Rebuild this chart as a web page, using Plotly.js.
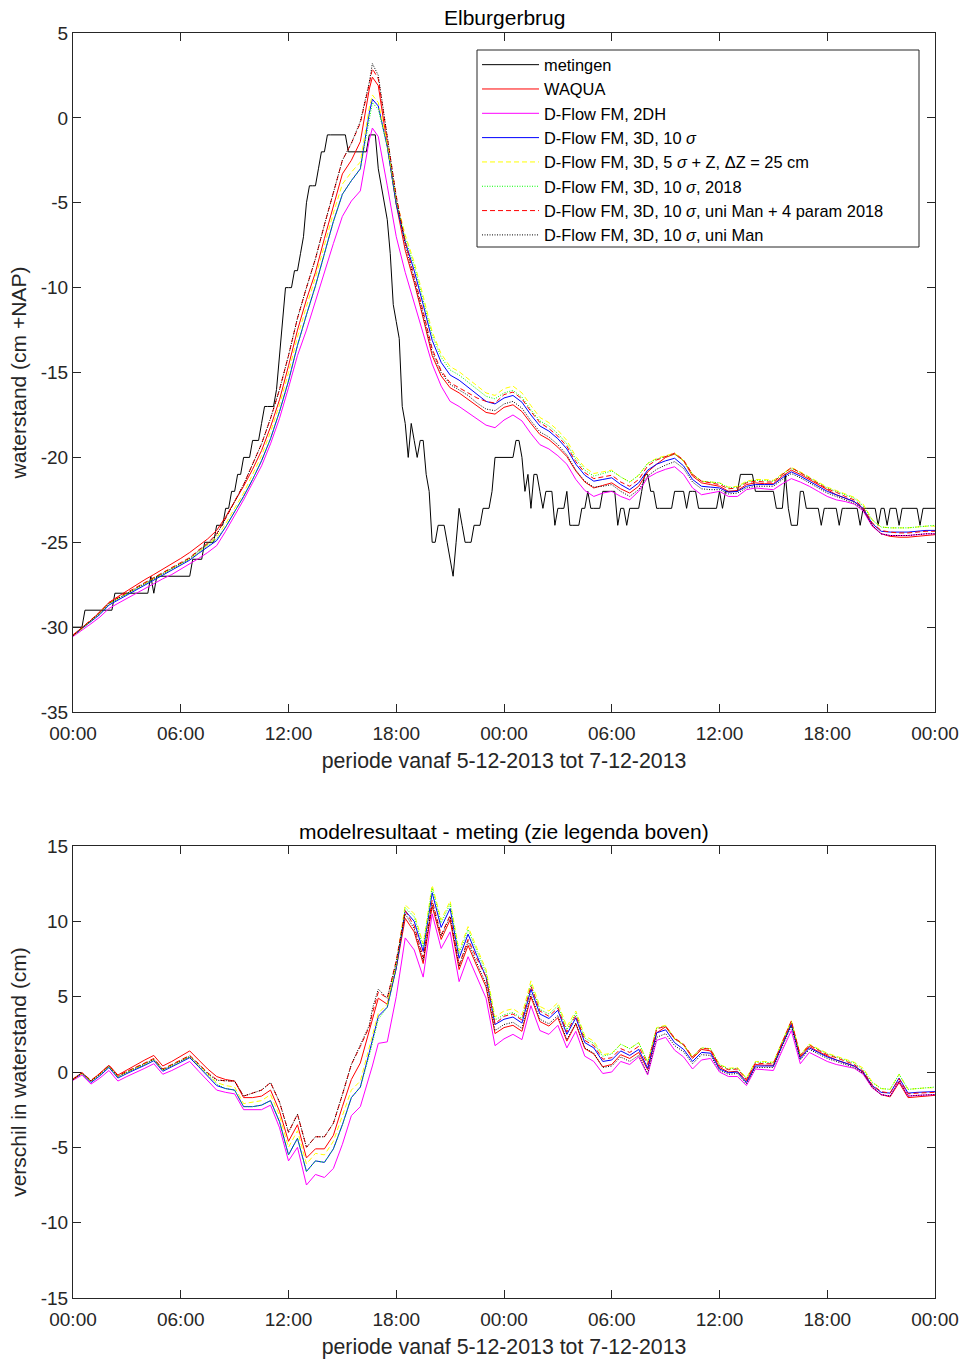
<!DOCTYPE html>
<html>
<head>
<meta charset="utf-8">
<script src="https://cdn.plot.ly/plotly-3.0.1.min.js"></script>
<style>html,body{margin:0;padding:0;background:#fff;}#chart{width:963px;height:1360px;}</style>
</head>
<body>
<div id="chart"></div>
<script>
// model output times, hours since 5-12-2013 00:00
const hours = [0,0.5,1,1.5,2,2.5,3,3.5,4,4.5,5,5.5,6,6.5,7,7.5,8,8.5,9,9.5,10,10.5,11,11.5,12,12.5,13,13.5,14,14.5,15,15.5,16,16.5,16.67,17,17.5,18,18.5,19,19.5,20,20.5,21,21.5,22,22.5,23,23.5,24,24.5,25,25.5,26,26.5,27,27.5,28,28.5,29,29.5,30,30.5,31,31.5,32,32.5,33,33.5,34,34.5,35,35.5,36,36.5,37,37.5,38,38.5,39,39.5,40,40.5,41,41.5,42,42.5,43,43.5,44,44.5,45,45.5,46,46.5,47,47.5,48];

const tickHours = [0,6,12,18,24,30,36,42,48];
const tickLabels = ['00:00','06:00','12:00','18:00','00:00','06:00','12:00','18:00','00:00'];
const yTicksTop = [-35,-30,-25,-20,-15,-10,-5,0,5];
const yLabelsTop = ['-35','-30','-25','-20','-15','-10','-5','0','5'];
const yTicksBot = [-15,-10,-5,0,5,10,15];
const yLabelsBot = ['-15','-10','-5','0','5','10','15'];

// measurements every 10 minutes from 00:00 (one row per hour)
const metingenStep = 1 / 6;
const metingen = [
 -30,-30,-30,-30,-29,-29,
 -29,-29,-29,-29,-29,-29,
 -29,-29,-28,-28,-28,-28,
 -28,-28,-28,-28,-28,-28,
 -28,-28,-27,-28,-27,-27,
 -27,-27,-27,-27,-27,-27,
 -27,-27,-27,-27,-26,-26,
 -26,-26,-25,-25,-25,-25,
 -24,-24,-24,-23,-23,-22,
 -22,-21,-21,-20,-20,-20,
 -19,-19,-19,-18,-17,-17,
 -17,-17,-16,-14,-12,-10,
 -10,-10,-9,-9,-8,-7,
 -5,-4,-4,-4,-3,-2,
 -2,-1,-1,-1,-1,-1,
 -1,-1,-2,-2,-2,-2,
 -2,-2,-2,-1,-1,-1,
 -3,-4,-5,-6,-8,-11,
 -12,-13,-17,-18,-20,-18,
 -19,-20,-19,-19,-21,-22,
 -25,-25,-24,-24,-24,-25,
 -26,-27,-25,-23,-24,-25,
 -25,-25,-24,-24,-24,-23,
 -23,-23,-22,-20,-20,-20,
 -20,-20,-20,-20,-19,-19,
 -20,-22,-21,-23,-21,-21,
 -22,-23,-22,-22,-22,-24,
 -23,-23,-23,-22,-24,-24,
 -24,-24,-23,-23,-22,-23,
 -23,-23,-23,-22,-22,-22,
 -22,-22,-24,-23,-23,-24,
 -23,-23,-23,-23,-22,-21,
 -21,-22,-22,-23,-23,-23,
 -23,-23,-23,-22,-22,-22,
 -22,-23,-22,-22,-22,-23,
 -23,-23,-23,-23,-23,-23,
 -22,-23,-22,-22,-22,-22,
 -22,-21,-21,-21,-21,-21,
 -22,-22,-22,-22,-22,-22,
 -22,-23,-23,-23,-21,-23,
 -24,-24,-24,-22,-22,-23,
 -23,-23,-23,-23,-24,-23,
 -23,-23,-23,-23,-24,-23,
 -23,-23,-23,-23,-23,-24,
 -23,-23,-23,-23,-23,-24,
 -23,-23,-24,-23,-23,-23,
 -24,-23,-23,-23,-23,-23,
 -23,-24,-23,-23,-23,-23,
 -23];

const waqua = [-30.45,-30.05,-29.6,-29.1,-28.55,-28.2,-27.85,-27.55,-27.2,-26.9,-26.6,-26.3,-25.95,-25.6,-25.2,-24.8,
 -24.3,-23.5,-22.6,-21.7,-20.7,-19.6,-18.2,-16.6,-14.6,-12.5,-10.7,-9.1,-7.1,-5.2,-3.3,-2.5,-1.4,1.7,2.4,1.9,
 -1.5,-5.1,-7.8,-9.7,-11.8,-14.0,-15.2,-15.9,-16.2,-16.6,-17.0,-17.35,-17.45,-17.05,-16.9,-17.3,-18.0,-18.65,-18.95,-19.4,-19.95,-20.8,-21.45,-21.8,-21.65,-21.5,-21.85,-22.1,-21.7,-20.85,-20.4,-20.0,-19.8,-20.2,-21.1,-21.5,-21.6,-21.7,-22.0,-21.95,-21.6,-21.5,-21.55,-21.55,-21.1,-20.75,-21.0,-21.3,-21.65,-21.95,-22.2,-22.4,-22.6,-23.05,-24.0,-24.5,-24.65,-24.7,-24.7,-24.65,-24.6,-24.55];

const fm2DH = [-30.55,-30.2,-29.8,-29.4,-28.9,-28.6,-28.3,-28.05,-27.75,-27.45,-27.15,-26.9,-26.6,-26.3,-25.95,-25.6,
 -25.2,-24.35,-23.45,-22.5,-21.5,-20.5,-19.2,-17.7,-15.9,-14.0,-12.5,-10.8,-9.0,-7.4,-5.8,-4.9,-4.3,-1.3,-0.6,-1.1,
 -4.0,-7.0,-9.1,-10.9,-12.7,-14.5,-15.8,-16.7,-17.0,-17.35,-17.7,-18.1,-18.25,-17.8,-17.5,-17.85,-18.6,-19.25,-19.5,-19.9,-20.4,-21.3,-21.95,-22.3,-22.1,-22.0,-22.3,-22.5,-22.0,-21.2,-20.9,-20.7,-20.55,-21.0,-21.8,-22.2,-22.1,-22.0,-22.3,-22.3,-21.9,-21.8,-21.85,-21.9,-21.55,-21.25,-21.45,-21.7,-22.0,-22.3,-22.5,-22.6,-22.75,-23.15,-24.05,-24.5,-24.6,-24.6,-24.6,-24.55,-24.5,-24.5];

const fm3D10 = [-30.5,-30.1,-29.7,-29.25,-28.7,-28.4,-28.1,-27.85,-27.55,-27.25,-26.95,-26.65,-26.35,-26.05,-25.65,-25.25,
 -24.9,-24.1,-23.2,-22.3,-21.3,-20.2,-18.9,-17.3,-15.5,-13.4,-11.6,-9.9,-8.0,-6.1,-4.5,-3.7,-3.0,0.3,1.1,0.7,
 -1.7,-5.1,-7.3,-9.0,-11.0,-13.1,-14.4,-15.15,-15.45,-15.85,-16.3,-16.7,-16.85,-16.5,-16.35,-16.75,-17.5,-18.15,-18.45,-18.9,-19.5,-20.4,-21.05,-21.4,-21.3,-21.2,-21.6,-21.9,-21.5,-20.75,-20.4,-20.2,-20.05,-20.5,-21.3,-21.7,-21.75,-21.8,-22.05,-22.0,-21.7,-21.6,-21.6,-21.6,-21.2,-20.85,-21.1,-21.4,-21.7,-22.0,-22.2,-22.4,-22.6,-23.0,-23.9,-24.35,-24.4,-24.4,-24.4,-24.35,-24.3,-24.3];

const fm3D5Z = [-30.5,-30.1,-29.6,-29.15,-28.6,-28.3,-28.0,-27.75,-27.45,-27.15,-26.85,-26.55,-26.25,-25.95,-25.55,-25.15,
 -24.7,-23.9,-23.0,-22.1,-21.0,-19.9,-18.5,-16.9,-15.0,-12.9,-11.1,-9.4,-7.5,-5.6,-3.9,-3.2,-2.6,0.6,1.35,0.9,
 -1.5,-4.8,-6.9,-8.5,-10.5,-12.6,-13.9,-14.65,-14.95,-15.35,-15.8,-16.2,-16.35,-15.95,-15.8,-16.2,-16.95,-17.65,-17.95,-18.4,-19.0,-19.95,-20.6,-20.95,-20.85,-20.75,-21.15,-21.45,-21.05,-20.35,-20.05,-19.9,-19.75,-20.2,-21.0,-21.4,-21.45,-21.5,-21.75,-21.7,-21.4,-21.3,-21.3,-21.35,-20.95,-20.6,-20.85,-21.15,-21.45,-21.75,-21.95,-22.15,-22.35,-22.75,-23.65,-24.1,-24.15,-24.15,-24.15,-24.1,-24.05,-24.05];

const fm3D10_2018 = [-30.5,-30.1,-29.65,-29.2,-28.65,-28.35,-28.05,-27.8,-27.5,-27.2,-26.9,-26.6,-26.3,-26.0,-25.6,-25.2,
 -24.8,-24.1,-23.2,-22.3,-21.3,-20.2,-18.9,-17.3,-15.5,-13.4,-11.6,-9.9,-8.0,-6.1,-4.5,-3.7,-3.0,0.1,0.9,0.5,
 -1.7,-5.0,-7.1,-8.7,-10.7,-12.8,-14.1,-14.85,-15.15,-15.55,-16.0,-16.4,-16.55,-16.2,-16.05,-16.45,-17.2,-17.85,-18.15,-18.6,-19.2,-20.1,-20.75,-21.1,-20.95,-20.8,-21.15,-21.45,-21.05,-20.35,-20.1,-19.95,-19.8,-20.2,-21.0,-21.4,-21.45,-21.5,-21.8,-21.75,-21.45,-21.35,-21.35,-21.4,-21.0,-20.65,-20.9,-21.2,-21.5,-21.8,-22.0,-22.2,-22.4,-22.85,-23.7,-24.1,-24.15,-24.15,-24.15,-24.1,-24.05,-24.0];

const fmUniMan4p = [-30.5,-30.05,-29.55,-29.1,-28.55,-28.25,-27.95,-27.7,-27.4,-27.1,-26.8,-26.5,-26.2,-25.9,-25.45,-25.05,
 -24.5,-23.6,-22.6,-21.6,-20.4,-19.2,-17.7,-16.0,-14.0,-11.8,-10.0,-8.3,-6.3,-4.4,-2.5,-1.5,-0.3,2.0,2.9,2.3,
 -1.1,-4.6,-7.3,-9.3,-11.4,-13.6,-14.9,-15.6,-15.9,-16.2,-16.5,-16.7,-16.8,-16.3,-16.15,-16.55,-17.3,-17.95,-18.3,-18.75,-19.35,-20.25,-20.9,-21.25,-21.15,-21.05,-21.45,-21.7,-21.3,-20.5,-20.15,-19.95,-19.75,-20.15,-21.0,-21.4,-21.5,-21.6,-21.85,-21.8,-21.5,-21.4,-21.45,-21.45,-21.0,-20.6,-20.9,-21.2,-21.55,-21.85,-22.05,-22.3,-22.5,-22.95,-23.85,-24.3,-24.4,-24.45,-24.45,-24.4,-24.35,-24.35];

const fmUniMan = [-30.5,-30.05,-29.6,-29.15,-28.6,-28.3,-28.0,-27.75,-27.45,-27.15,-26.85,-26.55,-26.25,-25.95,-25.5,-25.1,
 -24.55,-23.6,-22.6,-21.6,-20.4,-19.2,-17.7,-16.0,-14.0,-11.8,-10.0,-8.3,-6.3,-4.4,-2.5,-1.5,-0.2,2.1,3.2,2.5,
 -1.1,-4.7,-7.5,-9.5,-11.6,-13.8,-15.0,-15.7,-16.0,-16.35,-16.8,-17.15,-17.25,-16.85,-16.7,-17.1,-17.85,-18.5,-18.8,-19.25,-19.85,-20.75,-21.4,-21.75,-21.7,-21.6,-22.0,-22.3,-21.9,-21.1,-20.7,-20.45,-20.25,-20.65,-21.45,-21.85,-21.9,-21.9,-22.15,-22.1,-21.8,-21.7,-21.7,-21.7,-21.3,-20.95,-21.2,-21.5,-21.8,-22.1,-22.3,-22.5,-22.7,-23.1,-24.0,-24.5,-24.6,-24.6,-24.6,-24.55,-24.5,-24.5];

const models = [
  {name: 'WAQUA', y: waqua, color: '#ff0000', dash: 'solid'},
  {name: 'D-Flow FM, 2DH', y: fm2DH, color: '#ff00ff', dash: 'solid'},
  {name: 'D-Flow FM, 3D, 10 <i>σ</i>', y: fm3D10, color: '#0000ff', dash: 'solid'},
  {name: 'D-Flow FM, 3D, 5 <i>σ</i> + Z, ΔZ = 25 cm', y: fm3D5Z, color: '#ffff00', dash: '5px,3px'},
  {name: 'D-Flow FM, 3D, 10 <i>σ</i>, 2018', y: fm3D10_2018, color: '#00ff00', dash: '1px,1.5px'},
  {name: 'D-Flow FM, 3D, 10 <i>σ</i>, uni Man + 4 param 2018', y: fmUniMan4p, color: '#ff0000', dash: '5px,3px'},
  {name: 'D-Flow FM, 3D, 10 <i>σ</i>, uni Man', y: fmUniMan, color: '#000000', dash: '1px,1.5px'}
];

const traces = [{
  x0: 0, dx: metingenStep, y: metingen, type: 'scatter', mode: 'lines', name: 'metingen',
  line: {color: '#000000', width: 1}, xaxis: 'x', yaxis: 'y'
}];
models.forEach(m => {
  traces.push({x: hours, y: m.y, type: 'scatter', mode: 'lines', name: m.name,
    line: {color: m.color, width: 1, dash: m.dash}, xaxis: 'x', yaxis: 'y'});
});
// model minus measurement at the model output times
models.forEach(m => {
  const d = m.y.map((v, i) => Math.round((v - metingen[Math.round(hours[i] / metingenStep)]) * 100) / 100);
  traces.push({x: hours, y: d, type: 'scatter', mode: 'lines', name: m.name, showlegend: false,
    line: {color: m.color, width: 1, dash: m.dash}, xaxis: 'x2', yaxis: 'y2'});
});

const axisCol = '#262626';
const fontFam = 'Liberation Sans, Arial, Helvetica, sans-serif';
const xBase = {
  range: [0, 48], tickmode: 'array', tickvals: tickHours, ticktext: tickLabels, ticks: 'inside', ticklen: 8,
  tickcolor: axisCol, showline: true, linecolor: axisCol, linewidth: 1, mirror: 'ticks',
  showgrid: false, zeroline: false, tickfont: {size: 19, color: axisCol, family: fontFam},
  ticklabelstandoff: 4, automargin: false
};
const yBase = {
  ticks: 'inside', ticklen: 8, tickcolor: axisCol, showline: true, linecolor: axisCol, linewidth: 1,
  mirror: 'ticks', showgrid: false, zeroline: false, tickmode: 'array',
  tickfont: {size: 19, color: axisCol, family: fontFam}, automargin: false
};

// legend frame in pixels: x 477..919, y 50..247 ; plot area x 73..935, y 33..1298
const frame = {x0: (477 - 73) / 862, x1: (919 - 73) / 862, y0: 1 - (247 - 33) / 1265, y1: 1 - (50 - 33) / 1265};

const layout = {
  width: 963, height: 1360,
  margin: {l: 73, r: 28, t: 33, b: 62},
  paper_bgcolor: '#ffffff', plot_bgcolor: '#ffffff',
  font: {family: fontFam, size: 19, color: axisCol},
  showlegend: true,
  legend: {
    x: 0.4687, y: 1 - (47.5 - 33) / 1265, xanchor: 'left', yanchor: 'top',
    bgcolor: 'rgba(0,0,0,0)', borderwidth: 0,
    font: {size: 16.4, color: '#000000', family: fontFam},
    traceorder: 'normal', itemwidth: 57
  },
  shapes: [{type: 'rect', xref: 'paper', yref: 'paper', x0: frame.x0, x1: frame.x1, y0: frame.y0, y1: frame.y1,
    line: {color: axisCol, width: 1}, fillcolor: '#ffffff', layer: 'below'}],
  xaxis: Object.assign({}, xBase, {anchor: 'y', domain: [0, 1],
    title: {text: 'periode vanaf 5-12-2013 tot 7-12-2013', font: {size: 21.3, color: axisCol}, standoff: 10}}),
  yaxis: Object.assign({}, yBase, {anchor: 'x', domain: [0.4632, 1], range: [-35, 5],
    tickvals: yTicksTop, ticktext: yLabelsTop,
    title: {text: 'waterstand (cm +NAP)', font: {size: 21, color: axisCol}, standoff: 8}}),
  xaxis2: Object.assign({}, xBase, {anchor: 'y2', domain: [0, 1],
    title: {text: 'periode vanaf 5-12-2013 tot 7-12-2013', font: {size: 21.3, color: axisCol}, standoff: 10}}),
  yaxis2: Object.assign({}, yBase, {anchor: 'x2', domain: [0, 0.3573], range: [-15, 15],
    tickvals: yTicksBot, ticktext: yLabelsBot,
    title: {text: 'verschil in waterstand (cm)', font: {size: 21, color: axisCol}, standoff: 8}}),
  annotations: [
    {text: 'Elburgerbrug', xref: 'paper', yref: 'paper', x: 0.5, y: 1, xanchor: 'center', yanchor: 'bottom',
      showarrow: false, font: {size: 21, color: '#000000'}, yshift: 2},
    {text: 'modelresultaat - meting (zie legenda boven)', xref: 'paper', yref: 'paper', x: 0.5, y: 0.3573,
      xanchor: 'center', yanchor: 'bottom', showarrow: false, font: {size: 21, color: '#000000'}, yshift: 1}
  ]
};

Plotly.newPlot('chart', traces, layout, {displayModeBar: false, staticPlot: true});
</script>
</body>
</html>
